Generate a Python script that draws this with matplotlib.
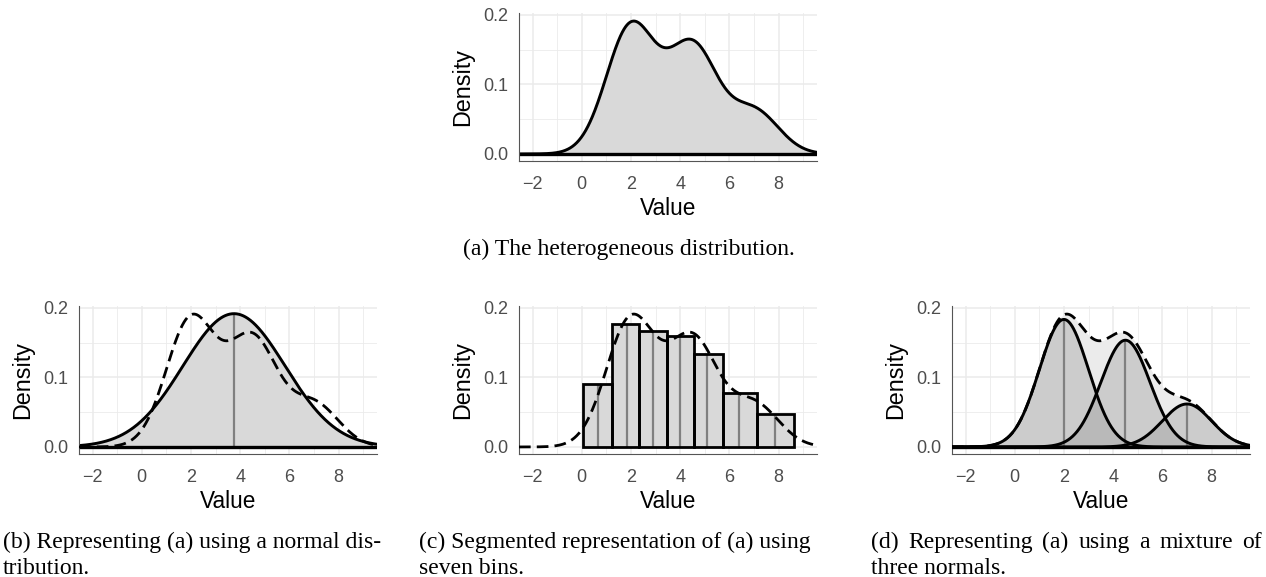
import numpy as np
import matplotlib
matplotlib.use("Agg")
import matplotlib.pyplot as plt

# three normal components
comp_means = [2.0, 4.5, 7.0]
comp_sds = [1.0, 1.0, 1.0]
comp_weights = [0.46, 0.385, 0.155]

# single normal of panel (b)
norm_mean = 3.75
norm_sd = 2.08

# seven bins of panel (c)
bin_edges = [0.07, 1.22, 2.34, 3.46, 4.57, 5.76, 7.11, 8.64]
bin_heights = [0.090, 0.177, 0.167, 0.159, 0.134, 0.078, 0.047]
bin_marks = [0.68, 1.83, 2.89, 4.0, 5.1, 6.41, 7.87]

x_ticks = [-2, 0, 2, 4, 6, 8]
x_minor = [-1, 1, 3, 5, 7, 9]
y_ticks = [0.0, 0.1, 0.2]
y_labels = ["0.0", "0.1", "0.2"]
y_minor = [0.05, 0.15]

cap_a = "(a) The heterogeneous distribution."
cap_b = ["(b) Representing (a) using a normal dis-", "tribution."]
cap_c = ["(c) Segmented representation of (a) using", "seven bins."]
cap_d = ["(d) Representing (a) using a mixture of", "three normals."]

W, H = 1266, 577
XLIM = (-2.55, 9.55)
YLIM = (-0.0097, 0.2027)
SANS = "Liberation Sans"
SERIF = "Liberation Serif"
CAP_SIZE = 17


def npdf(x, m, s):
    return np.exp(-0.5 * ((x - m) / s) ** 2) / (s * np.sqrt(2 * np.pi))


x = np.linspace(XLIM[0], XLIM[1], 800)
comps = [w * npdf(x, m, s) for m, s, w in zip(comp_means, comp_sds, comp_weights)]
mix = np.sum(comps, axis=0)
norm = npdf(x, norm_mean, norm_sd)


def style(ax):
    ax.set_xlim(*XLIM)
    ax.set_ylim(*YLIM)
    ax.set_xticks(x_ticks)
    ax.set_xticks(x_minor, minor=True)
    ax.set_yticks(y_ticks)
    ax.set_yticklabels(y_labels)
    ax.set_yticks(y_minor, minor=True)
    ax.grid(which="major", color="#EBEBEB", lw=1.1)
    ax.grid(which="minor", color="#EBEBEB", lw=0.6)
    ax.set_axisbelow(True)
    ax.tick_params(which="both", length=0, labelsize=13, labelcolor="#4D4D4D")
    ax.tick_params(axis="x", pad=11)
    ax.tick_params(axis="y", pad=8)
    for lab in ax.get_xticklabels() + ax.get_yticklabels():
        lab.set_fontfamily(SANS)
    for sp in ["top", "right"]:
        ax.spines[sp].set_visible(False)
    for sp in ["left", "bottom"]:
        ax.spines[sp].set_color("#555555")
        ax.spines[sp].set_linewidth(0.8)
    ax.set_xlabel("Value", fontsize=16.3, family=SANS, labelpad=3)
    ax.set_ylabel("Density", fontsize=16.8, family=SANS, labelpad=6)


def dashed(ax, y):
    ln, = ax.plot(x, y, color="black", lw=2.0, zorder=6)
    ln.set_dashes([4.2, 2.2])


fig = plt.figure(figsize=(W / 100, H / 100), dpi=100)

def add_ax(px_left, px_bottom):
    return fig.add_axes([px_left / W, 1 - px_bottom / H, 297.7 / W, 147.6 / H])

ax_a = add_ax(519, 160.7)
ax_b = add_ax(79, 453.7)
ax_c = add_ax(519, 453.7)
ax_d = add_ax(952, 453.7)

# (a)
ax_a.fill_between(x, 0, mix, color="#D9D9D9", lw=0)
ax_a.plot(x, mix, color="black", lw=2.1)
ax_a.axhline(0, color="black", lw=2.4)
style(ax_a)

# (b)
ax_b.fill_between(x, 0, norm, color="#D9D9D9", lw=0)
ax_b.vlines(norm_mean, 0, npdf(norm_mean, norm_mean, norm_sd), color="#808080", lw=1.6)
ax_b.plot(x, norm, color="black", lw=2.1)
dashed(ax_b, mix)
ax_b.axhline(0, color="black", lw=2.4)
style(ax_b)

# (c)
edges = np.array(bin_edges)
ax_c.bar(edges[:-1], bin_heights, width=np.diff(edges), align="edge",
         color="#D9D9D9", lw=0, zorder=2)
ax_c.vlines(bin_marks, 0, bin_heights, color="#808080", lw=1.6, zorder=3)
ax_c.bar(edges[:-1], bin_heights, width=np.diff(edges), align="edge",
         fill=False, edgecolor="black", lw=2.0, zorder=4)
dashed(ax_c, mix)
style(ax_c)

# (d)
ax_d.fill_between(x, 0, mix, color="#EBEBEB", lw=0)
for c in comps:
    ax_d.fill_between(x, 0, c, color="#999999", alpha=0.37, lw=0)
for m, s, w in zip(comp_means, comp_sds, comp_weights):
    ax_d.vlines(m, 0, w * npdf(m, m, s), color="#808080", lw=1.6, zorder=3)
for c in comps:
    ax_d.plot(x, c, color="black", lw=2.1, zorder=4)
dashed(ax_d, mix)
ax_d.axhline(0, color="black", lw=2.4, zorder=5)
style(ax_d)

# captions
renderer = fig.canvas.get_renderer()

def word_width(s):
    t = fig.text(0, 0, s, fontsize=CAP_SIZE, family=SERIF)
    w = t.get_window_extent(renderer).width
    t.remove()
    return w

def caption(px, py, s, ha="left"):
    fig.text(px / W, 1 - py / H, s, ha=ha, va="baseline",
             fontsize=CAP_SIZE, family=SERIF, color="black")

def justified(px0, px1, py, s):
    words = s.split(" ")
    widths = [word_width(w) for w in words]
    gap = (px1 - px0 - sum(widths)) / (len(words) - 1)
    pos = px0
    for w, ww in zip(words, widths):
        caption(pos, py, w)
        pos += ww + gap

caption(629, 255, cap_a, ha="center")
caption(3, 548, cap_b[0])
caption(3, 574, cap_b[1])
caption(419, 548, cap_c[0])
caption(419, 574, cap_c[1])
justified(871, 1262, 548, cap_d[0])
caption(871, 574, cap_d[1])

fig.savefig("out.png", dpi=100)
